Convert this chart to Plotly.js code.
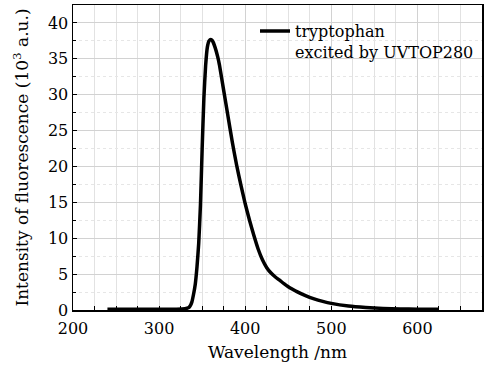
<!DOCTYPE html>
<html>
<head>
<meta charset="utf-8">
<script src="https://cdn.plot.ly/plotly-3.0.1.min.js"></script>
<style>html,body{margin:0;padding:0;background:#fff;}#chart{width:494px;height:369px;}</style>
</head>
<body>
<div id="chart"></div>
<script>
// Data
const wavelength = [240, 260, 280, 300, 320, 330, 334, 336, 338, 340, 342, 344, 346, 348, 350, 352, 354, 356, 358, 360, 362, 365, 368, 370, 375, 380, 385, 390, 395, 400, 405, 410, 415, 420, 425, 430, 435, 440, 445, 450, 455, 460, 470, 480, 490, 500, 520, 540, 560, 580, 600, 625];
const intensity = [0.1, 0.1, 0.1, 0.1, 0.12, 0.18, 0.3, 0.55, 1.1, 2.2, 3.6, 6.0, 9.3, 14.6, 22.5, 29.5, 34.0, 36.6, 37.5, 37.7, 37.5, 36.6, 35.3, 34.2, 30.6, 27.0, 23.4, 20.2, 17.4, 14.8, 12.5, 10.4, 8.5, 7.0, 5.9, 5.15, 4.6, 4.15, 3.67, 3.25, 2.9, 2.56, 2.0, 1.55, 1.2, 0.92, 0.55, 0.35, 0.22, 0.15, 0.1, 0.1];
const seriesName = "tryptophan<br>excited by UVTOP280";
const xTitle = "Wavelength /nm";
const yTitle = "Intensity of fluorescence (10<sup>3</sup> a.u.)";

const font = "DejaVu Serif";

const trace = {
  x: wavelength,
  y: intensity,
  type: "scatter",
  mode: "lines",
  name: seriesName,
  line: {color: "#000", width: 3.5, shape: "spline", smoothing: 0.5}
};

const layout = {
  width: 494,
  height: 369,
  margin: {l: 73, r: 12, t: 5, b: 59},
  paper_bgcolor: "#fff",
  plot_bgcolor: "#fff",
  font: {family: font, size: 16, color: "#000"},
  showlegend: true,
  legend: {
    x: 0.445, y: 0.97, xanchor: "left", yanchor: "top",
    bgcolor: "rgba(0,0,0,0)", borderwidth: 0,
    valign: "top", itemwidth: 30,
    font: {family: font, size: 16, color: "#000"}
  },
  xaxis: {
    range: [200, 675],
    dtick: 100,
    ticks: "inside", ticklen: 4, tickcolor: "#000", tickwidth: 1,
    ticklabelstandoff: 3,
    showline: true, linecolor: "#000", linewidth: 1.5, mirror: true,
    showgrid: true, gridcolor: "#d2d2d2", gridwidth: 1,
    minor: {dtick: 25, showgrid: true, gridcolor: "#e2e2e2", ticks: "inside", ticklen: 4, tickcolor: "#000"},
    zeroline: false,
    tickfont: {family: font, size: 16, color: "#000"},
    title: {text: xTitle, font: {family: font, size: 17, color: "#000"}, standoff: 9}
  },
  yaxis: {
    range: [0, 42.5],
    dtick: 5,
    ticks: "inside", ticklen: 4, tickcolor: "#000", tickwidth: 1,
    showline: true, linecolor: "#000", linewidth: 1.5, mirror: true,
    showgrid: true, gridcolor: "#d2d2d2", gridwidth: 1,
    minor: {dtick: 2.5, showgrid: true, gridcolor: "#e6e6e6", griddash: "dot", ticks: "inside", ticklen: 3, tickcolor: "#000"},
    zeroline: false,
    tickfont: {family: font, size: 16, color: "#000"},
    title: {text: yTitle, font: {family: font, size: 17, color: "#000"}, standoff: 15}
  }
};

Plotly.newPlot("chart", [trace], layout, {displayModeBar: false, staticPlot: true});
</script>
</body>
</html>
